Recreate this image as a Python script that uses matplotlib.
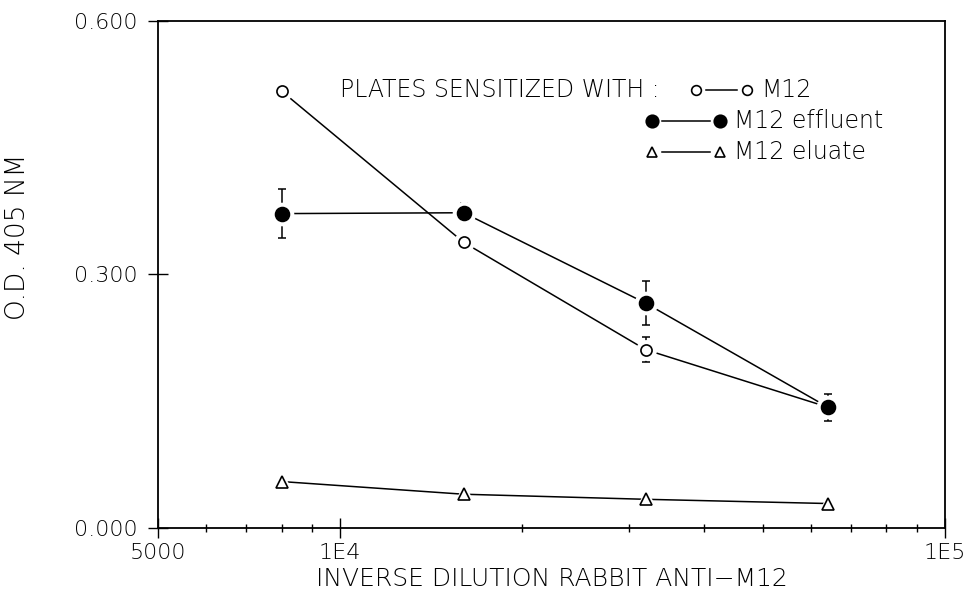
import matplotlib
matplotlib.use("Agg")
import matplotlib.pyplot as plt
from matplotlib.ticker import FixedLocator, NullFormatter

# Inverse dilutions of rabbit anti-M12 serum
dilutions = [8000, 16000, 32000, 64000]

# O.D. 405 nm readings for plates sensitized with each antigen preparation
m12 = [0.517, 0.338, 0.211, 0.143]
m12_err = [0.0, 0.0, 0.015, 0.0]
effluent = [0.372, 0.373, 0.266, 0.143]
effluent_err = [0.029, 0.012, 0.026, 0.016]
eluate = [0.055, 0.040, 0.034, 0.029]

x_ticks = [5000, 10000, 100000]
x_tick_labels = ["5000", "1E4", "1E5"]
y_ticks = [0.0, 0.3, 0.6]
y_tick_labels = ["0.000", "0.300", "0.600"]

plt.rcParams["font.family"] = ["DejaVu Sans"]
plt.rcParams["font.weight"] = "light"

fig = plt.figure(figsize=(9.72, 6.14), dpi=100)
ax = fig.add_axes([0.1626, 0.140, 0.8097, 0.826])

LW = 1.1


def series(y, marker, face, size, err=None):
    # connecting line
    ax.plot(dilutions, y, color="black", lw=LW, zorder=1)
    if err is not None:
        ax.errorbar(dilutions, y, yerr=err, fmt="none", ecolor="black",
                    elinewidth=LW, capsize=3, capthick=LW, zorder=1.5)
    # white halo leaves a small gap between line and symbol
    ax.plot(dilutions, y, ls="none", marker=marker, ms=size + 6,
            mfc="white", mec="white", zorder=2)
    ax.plot(dilutions, y, ls="none", marker=marker, ms=size,
            mfc=face, mec="black", mew=1.2, zorder=4)


series(eluate, "^", "white", 8)
series(m12, "o", "white", 8, m12_err)
series(effluent, "o", "black", 10, effluent_err)

ax.set_xscale("log")
ax.set_xlim(5000, 100000)
ax.set_ylim(0.0, 0.6)

ax.xaxis.set_major_locator(FixedLocator(x_ticks))
ax.set_xticklabels(x_tick_labels)
minor = [m * 10 ** e for e in (3, 4) for m in range(2, 10) if 5000 < m * 10 ** e < 100000]
ax.xaxis.set_minor_locator(FixedLocator(minor))
ax.xaxis.set_minor_formatter(NullFormatter())
ax.set_yticks(y_ticks)
ax.set_yticklabels(y_tick_labels)

ax.tick_params(axis="both", which="major", direction="inout", length=14,
               width=1, labelsize=16, top=False, right=False)
ax.tick_params(axis="x", which="minor", direction="inout", length=6,
               width=1, top=False)
ax.tick_params(axis="x", which="major", pad=4)
ax.tick_params(axis="y", which="major", pad=8)

for s in ax.spines.values():
    s.set_linewidth(1.3)

ax.text(-0.178, 0.575, "O.D. 405 NM", transform=ax.transAxes, rotation=90,
        ha="center", va="center", fontsize=19)
ax.text(0.5, -0.1, "INVERSE DILUTION RABBIT ANTI\u2212M12",
        transform=ax.transAxes, ha="center", va="center", fontsize=18)

# key
T = ax.transAxes
ax.text(0.231, 0.864, "PLATES SENSITIZED WITH :", transform=T,
        ha="left", va="center", fontsize=17)
key_rows = [
    (0.864, 0.683, 0.748, "o", "white", 7, "M12"),
    (0.803, 0.627, 0.714, "o", "black", 9, "M12 effluent"),
    (0.742, 0.627, 0.714, "^", "white", 7, "M12 eluate"),
]
for yk, x0, x1, mk, fc, ms, label in key_rows:
    ax.plot([x0 + 0.013, x1 - 0.013], [yk, yk], color="black", lw=LW,
            transform=T, clip_on=False)
    ax.plot([x0, x1], [yk, yk], ls="none", marker=mk, ms=ms, mfc=fc,
            mec="black", mew=1.2, transform=T, clip_on=False)
    ax.text(x1 + 0.018, yk, label, transform=T, ha="left", va="center",
            fontsize=17)

fig.savefig("out.png", dpi=100)
